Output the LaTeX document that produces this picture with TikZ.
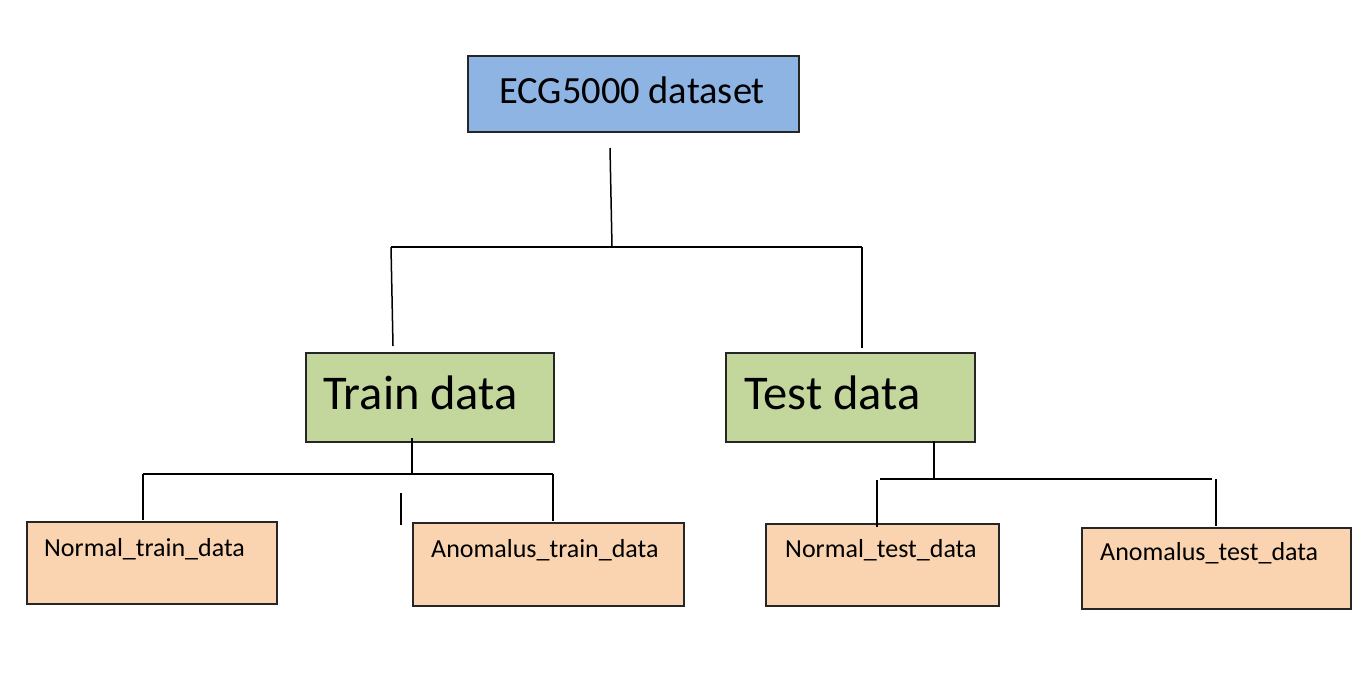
\documentclass[tikz,border=0pt]{standalone}
\usepackage{fontspec}
\setmainfont{Carlito}
\begin{document}
\begin{tikzpicture}[x=1pt,y=-1pt,
  box/.style={draw=black!85, line width=1.6pt, anchor=north west, inner sep=0pt},
  topbox/.style={box, fill={rgb,255:red,142;green,180;blue,227}},
  midbox/.style={box, fill={rgb,255:red,195;green,214;blue,155}},
  leafbox/.style={box, fill={rgb,255:red,250;green,212;blue,176}},
  conn/.style={draw=black, line width=1.5pt},
  lbl/.style={anchor=west, inner sep=0pt, text=black},
  midtxt/.style={lbl, font=\fontsize{48.5}{54}\selectfont},
  leaftxt/.style={lbl, font=\fontsize{26}{30}\selectfont}]
\useasboundingbox (0,0) rectangle (1367,677);
% boxes
\node[topbox, minimum width=331pt, minimum height=76pt] (ecg) at (467,55) {};
\node[font=\fontsize{38.5}{44}\selectfont, inner sep=0pt] (ecgt) at (632,90) {ECG5000 dataset};
\node[midbox, minimum width=248pt, minimum height=89pt] (train) at (305,352) {};
\node[midtxt] (traint) at (323,393) {Train data};
\node[midbox, minimum width=249pt, minimum height=89pt] (test) at (725,352) {};
\node[midtxt] (testt) at (744,393) {Test data};
\node[leafbox, minimum width=250pt, minimum height=82pt] (ntr) at (26,521) {};
\node[leaftxt] (ntrt) at (44,549) {Normal\_train\_data};
\node[leafbox, minimum width=271pt, minimum height=83pt] (atr) at (412,522) {};
\node[leaftxt] (atrt) at (431,550) {Anomalus\_train\_data};
\node[leafbox, minimum width=233pt, minimum height=82pt] (nte) at (765,523) {};
\node[leaftxt] (ntet) at (785,550) {Normal\_test\_data};
\node[leafbox, minimum width=269pt, minimum height=81pt] (ate) at (1081,527) {};
\node[leaftxt] (atet) at (1100,553) {Anomalus\_test\_data};
% connector coordinates
\coordinate (e1) at (610,148);
\coordinate (e2) at (612,247);
\coordinate (hl) at (391,247);
\coordinate (hr) at (862,247);
\coordinate (tl) at (393,346);
\coordinate (tr) at (862,348);
\coordinate (r1) at (412,438);
\coordinate (r2) at (412,474);
\coordinate (rl) at (143,474);
\coordinate (rr) at (553,474);
\coordinate (rlb) at (143,520);
\coordinate (rrb) at (553,521);
\coordinate (s1) at (401,493);
\coordinate (s2) at (401,525);
\coordinate (q1) at (934,441);
\coordinate (q2) at (934,479);
\coordinate (ql) at (880,479);
\coordinate (qr) at (1212,479);
\coordinate (qlt) at (877,480);
\coordinate (qlb) at (877,527);
\coordinate (qrt) at (1216,479);
\coordinate (qrb) at (1216,526);
% connectors
\draw[conn] (e1) -- (e2);
\draw[conn] (hl) -- (hr);
\draw[conn] (hl) -- (tl);
\draw[conn] (hr) -- (tr);
\draw[conn] (r1) -- (r2);
\draw[conn] (rl) -- (rr);
\draw[conn] (rl) -- (rlb);
\draw[conn] (rr) -- (rrb);
\draw[conn] (s1) -- (s2);
\draw[conn] (q1) -- (q2);
\draw[conn] (ql) -- (qr);
\draw[conn] (qlt) -- (qlb);
\draw[conn] (qrt) -- (qrb);
\end{tikzpicture}
\end{document}
